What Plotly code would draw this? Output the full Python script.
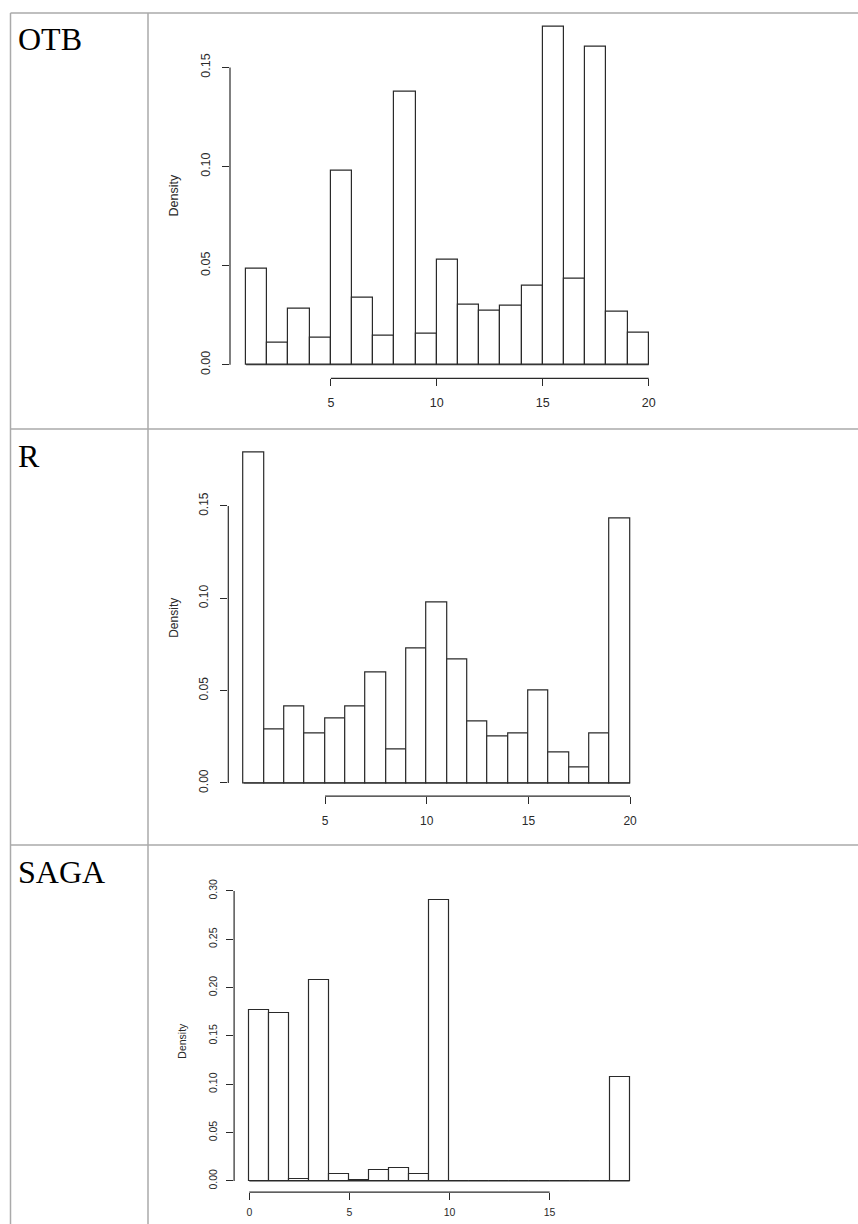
import plotly.graph_objects as go

# ---------------- data ----------------
row_labels = ["OTB", "R", "SAGA"]

otb_edges = list(range(1, 21))
otb_density = [0.0483, 0.0113, 0.0281, 0.0138, 0.0980, 0.0340, 0.0148, 0.1377, 0.0155,
               0.0531, 0.0304, 0.0271, 0.0299, 0.0399, 0.1707, 0.0436, 0.1604, 0.0266, 0.0160]
otb_xticks = [5, 10, 15, 20]
otb_yticks = [0.00, 0.05, 0.10, 0.15]

r_edges = list(range(1, 21))
r_density = [0.1789, 0.0289, 0.0417, 0.0267, 0.0350, 0.0417, 0.0599, 0.0184, 0.0727,
             0.0977, 0.0668, 0.0334, 0.0251, 0.0267, 0.0500, 0.0166, 0.0083, 0.0267, 0.1433]
r_xticks = [5, 10, 15, 20]
r_yticks = [0.00, 0.05, 0.10, 0.15]

saga_edges = list(range(0, 20))
saga_density = [0.1766, 0.1734, 0.0024, 0.2083, 0.0076, 0.0010, 0.0110, 0.0138, 0.0066,
                0.2903, 0.0, 0.0, 0.0, 0.0, 0.0, 0.0, 0.0, 0.0, 0.1072]
saga_xticks = [0, 5, 10, 15]
saga_yticks = [0.00, 0.05, 0.10, 0.15, 0.20, 0.25, 0.30]

y_title = "Density"

# ---------------- layout helpers (pixels -> paper) ----------------
W, H = 858, 1224


def fx(p):
    return p / W


def fy(p):
    return 1 - p / H


INK = "#2a2a2a"
GRID = "#aaaaaa"

panels = [
    dict(edges=otb_edges, dens=otb_density, xt=otb_xticks, yt=otb_yticks,
         box=(230, 664.8, 12.8, 378.3), tick=12.5, title=12.5, title_x=174, label_y=39.5,
         xstand=6, ystand=7),
    dict(edges=r_edges, dens=r_density, xt=r_xticks, yt=r_yticks,
         box=(228.3, 645.5, 439.4, 796.2), tick=12, title=12, title_x=174, label_y=455.5,
         xstand=6, ystand=8),
    dict(edges=saga_edges, dens=saga_density, xt=saga_xticks, yt=saga_yticks,
         box=(234.1, 644.9, 889.1, 1192.2), tick=10.5, title=10.5, title_x=182, label_y=872.2,
         xstand=3, ystand=5),
]

fig = go.Figure()
layout = dict(width=W, height=H,
              margin=dict(l=0, r=0, t=0, b=0, pad=0, autoexpand=False),
              paper_bgcolor="white", plot_bgcolor="white", showlegend=False,
              bargap=0, shapes=[], annotations=[])

for i, p in enumerate(panels):
    s = "" if i == 0 else str(i + 1)
    edges, dens = p["edges"], p["dens"]
    centers = [(a + b) / 2 for a, b in zip(edges[:-1], edges[1:])]
    widths = [b - a for a, b in zip(edges[:-1], edges[1:])]
    fig.add_trace(go.Bar(x=centers, y=dens, width=widths,
                         marker=dict(color="white", line=dict(color=INK, width=1.2)),
                         xaxis="x" + s, yaxis="y" + s, hoverinfo="x+y"))
    # baseline of the histogram (R draws zero-height rectangles as a line)
    fig.add_trace(go.Scatter(x=[edges[0], edges[-1]], y=[0, 0], mode="lines",
                             line=dict(color=INK, width=1.2), xaxis="x" + s, yaxis="y" + s,
                             hoverinfo="skip"))

    xspan = edges[-1] - edges[0]
    ymax = max(dens)
    xr = [edges[0] - 0.04 * xspan, edges[-1] + 0.04 * xspan]
    yr = [-0.04 * ymax, 1.04 * ymax]
    left, right, top, bottom = p["box"]
    font = dict(family="Liberation Sans, Arial, sans-serif", size=p["tick"], color=INK)

    layout["xaxis" + s] = dict(domain=[fx(left), fx(right)], range=xr, anchor="y" + s,
                               tickvals=p["xt"], ticks="outside", ticklen=7, tickwidth=1.2,
                               tickcolor=INK, showline=False, showgrid=False, zeroline=False,
                               tickfont=font, fixedrange=True, automargin=False,
                               ticklabelstandoff=p["xstand"])
    layout["yaxis" + s] = dict(domain=[fy(bottom), fy(top)], range=yr, anchor="x" + s,
                               tickvals=p["yt"], tickformat=".2f", tickangle=-90,
                               ticks="outside", ticklen=7, tickwidth=1.2, tickcolor=INK,
                               showline=False, showgrid=False, zeroline=False,
                               tickfont=font, fixedrange=True, ticklabelstandoff=p["ystand"],
                               automargin=False)

    # R-style axis lines spanning first to last tick
    layout["shapes"].append(dict(type="line", xref="x" + s, yref="paper",
                                 x0=p["xt"][0], x1=p["xt"][-1], y0=fy(bottom), y1=fy(bottom),
                                 line=dict(color=INK, width=1.2)))
    layout["shapes"].append(dict(type="line", xref="paper", yref="y" + s,
                                 x0=fx(left), x1=fx(left), y0=p["yt"][0], y1=p["yt"][-1],
                                 line=dict(color=INK, width=1.2)))

    # y title
    layout["annotations"].append(dict(text=y_title, xref="paper", yref="paper",
                                      x=fx(p["title_x"]), y=fy((top + bottom) / 2),
                                      textangle=-90, showarrow=False,
                                      xanchor="center", yanchor="middle",
                                      font=dict(family="Liberation Sans, Arial, sans-serif",
                                                size=p["title"], color=INK)))
    # row label
    layout["annotations"].append(dict(text=row_labels[i], xref="paper", yref="paper",
                                      x=fx(15.5), y=fy(p["label_y"]), showarrow=False,
                                      xanchor="left", yanchor="middle",
                                      font=dict(family="Liberation Serif, Times New Roman, serif",
                                                size=32, color="black")))

# table grid lines
for (x0, y0, x1, y1) in [(10.5, 13, 858, 13), (10.5, 429, 858, 429), (10.5, 845, 858, 845),
                         (10.5, 13, 10.5, 1224), (148, 13, 148, 1224)]:
    layout["shapes"].append(dict(type="line", xref="paper", yref="paper",
                                 x0=fx(x0), x1=fx(x1), y0=fy(y0), y1=fy(y1),
                                 line=dict(color=GRID, width=1.5)))

fig.update_layout(**layout)
fig.write_html("out.html")
